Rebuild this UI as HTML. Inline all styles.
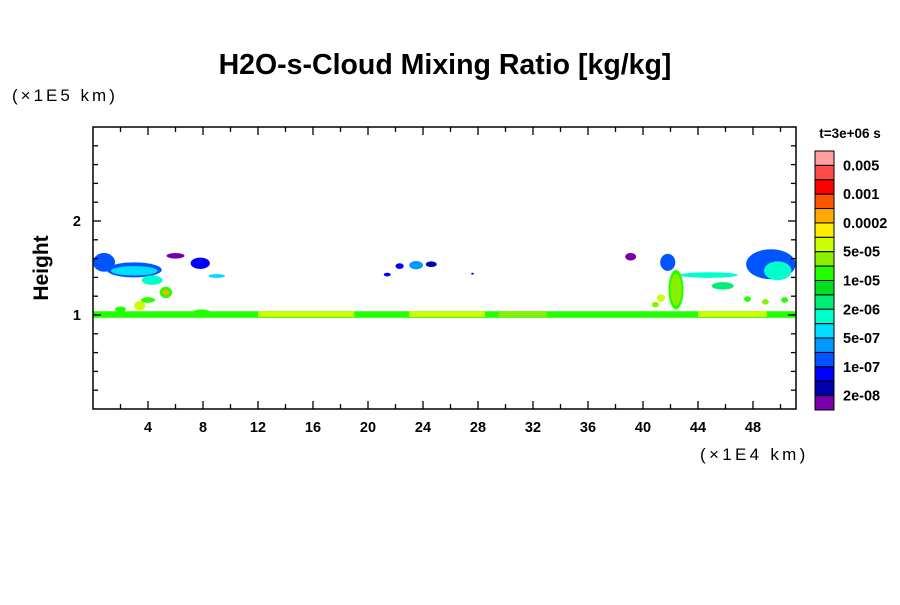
<!DOCTYPE html>
<html><head><meta charset="utf-8"><style>
body{margin:0;background:#fff;}
svg text{font-family:"Liberation Sans",sans-serif;}
</style></head><body>
<svg id="chart" width="900" height="600" viewBox="0 0 900 600" xmlns="http://www.w3.org/2000/svg">
<text x="445" y="74" text-anchor="middle" font-size="28.5" font-weight="bold">H2O-s-Cloud Mixing Ratio [kg/kg]</text>
<text x="12" y="101" font-size="17" letter-spacing="3">(×1E5 km)</text>
<text x="700" y="460" font-size="17" letter-spacing="3.3">(×1E4 km)</text>
<text x="48" y="268" font-size="21" font-weight="bold" text-anchor="middle" transform="rotate(-90 48 268)">Height</text>
<text x="850" y="138" font-size="13.5" font-weight="bold" text-anchor="middle">t=3e+06 s</text>
<g id="plot"></g>
<g id="axes"></g>
<g id="cbar"></g>
</svg>
<script>
const colors=["#ff9f9f","#ff4a4a","#ff0000","#ff5500","#ffaa00","#ffee00","#ccff00","#88f000","#22ff00","#00e020","#00ee77","#00ffcc","#00ddff","#0099ff","#0055ff","#0000ff","#0000aa","#7700aa"];
const cbarLabels=["0.005","0.001","0.0002","5e-05","1e-05","2e-06","5e-07","1e-07","2e-08"];
const xTicks=[4,8,12,16,20,24,28,32,36,40,44,48];
const yTicks=[1,2];
// blobs: center x, center y, radius x, radius y, color level
const blobX=[0.8,3.0,3.0,6.0,7.8,9.0,4.3,5.3,5.3,3.4,4.0,7.9,2.0,
 22.3,23.5,24.6,21.4,27.6,
 39.1,41.8,44.8,42.4,42.4,45.8,49.3,49.8,41.3,40.9,47.6,48.9,50.3];
const blobY=[1.56,1.48,1.47,1.63,1.55,1.415,1.37,1.24,1.24,1.10,1.16,1.03,1.06,
 1.52,1.53,1.54,1.43,1.44,
 1.62,1.56,1.425,1.27,1.27,1.31,1.54,1.47,1.18,1.11,1.17,1.14,1.16];
const blobRx=[0.8,2.0,1.7,0.65,0.7,0.6,0.75,0.45,0.25,0.4,0.5,0.6,0.4,
 0.3,0.5,0.4,0.25,0.1,
 0.4,0.55,2.1,0.55,0.4,0.8,1.8,1.0,0.3,0.25,0.25,0.25,0.25];
const blobRy=[0.1,0.08,0.05,0.03,0.06,0.02,0.05,0.06,0.03,0.05,0.03,0.03,0.03,
 0.03,0.045,0.03,0.02,0.01,
 0.04,0.09,0.03,0.21,0.17,0.04,0.16,0.1,0.04,0.03,0.03,0.03,0.03];
const blobLevel=[14,14,12,17,15,12,11,8,4,6,8,8,8,
 15,13,16,15,16,
 17,14,11,8,7,10,14,11,6,7,8,7,8];
// band segments: x start, x end, color level
const bandStart=[0,12,23,29.5,44];
const bandEnd=[51.1,19,28.5,33,49];
const bandLevel=[8,6,6,7,6];

const X0=93,X1=796,Y0=409,Y1=127,XPX=13.75,YPX=94;
const sx=v=>X0+v*XPX, sy=v=>Y0-v*YPX;
const NS="http://www.w3.org/2000/svg";
function mk(tag,attrs,parent){const e=document.createElementNS(NS,tag);for(const k in attrs)e.setAttribute(k,attrs[k]);parent.appendChild(e);return e;}
const plot=document.getElementById('plot');
for(let i=0;i<bandStart.length;i++){
 const r=mk('rect',{x:sx(bandStart[i]),y:sy(1.04),width:(bandEnd[i]-bandStart[i])*XPX,height:(i==0?0.07:0.06)*YPX,fill:colors[bandLevel[i]]},plot);
 
 
}
for(let i=0;i<blobX.length;i++){
 const e=mk('ellipse',{cx:sx(blobX[i]),cy:sy(blobY[i]),rx:blobRx[i]*XPX,ry:blobRy[i]*YPX,fill:colors[blobLevel[i]]},plot);
 
 
}
const ax=document.getElementById('axes');
mk('rect',{x:X0,y:Y1,width:X1-X0,height:Y0-Y1,fill:'none',stroke:'#000','stroke-width':1.5},ax);
for(let v=2;v<51;v+=2){const major=v%4==0,L=major?8:5;
 mk('line',{x1:sx(v),x2:sx(v),y1:Y0,y2:Y0-L,stroke:'#000','stroke-width':1.3},ax);
 mk('line',{x1:sx(v),x2:sx(v),y1:Y1,y2:Y1+L,stroke:'#000','stroke-width':1.3},ax);}
for(let k=1;k<15;k++){const v=k*0.2,major=k%5==0,L=major?8:5;
 mk('line',{x1:X0,x2:X0+L,y1:sy(v),y2:sy(v),stroke:'#000','stroke-width':1.3},ax);
 mk('line',{x1:X1,x2:X1-L,y1:sy(v),y2:sy(v),stroke:'#000','stroke-width':1.3},ax);}
xTicks.forEach(v=>{const t=mk('text',{x:sx(v),y:432,'text-anchor':'middle','font-size':14.5,'font-weight':'bold'},ax);t.textContent=v;
 
 });
yTicks.forEach(v=>{const t=mk('text',{x:81,y:sy(v)+5,'text-anchor':'end','font-size':14.5,'font-weight':'bold'},ax);t.textContent=v;
 
 });
const cb=document.getElementById('cbar');
const CT=151,CB=410,BH=(CB-CT)/colors.length;
colors.forEach((c,i)=>{const r=mk('rect',{x:815,y:CT+i*BH,width:19,height:BH,fill:c,stroke:'#000','stroke-width':1},cb);
 
 });
cbarLabels.forEach((l,i)=>{const t=mk('text',{x:843,y:CT+(2*i+1)*BH+5,'font-size':14.5,'font-weight':'bold'},cb);t.textContent=l;
 
 });
</script>
</body></html>
